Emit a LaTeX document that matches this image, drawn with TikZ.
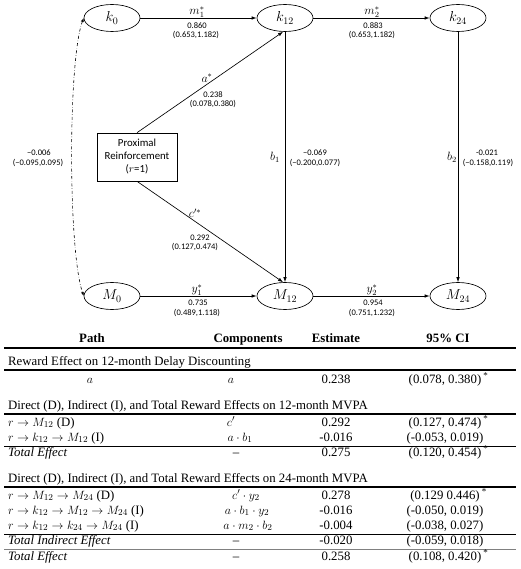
\documentclass[tikz,border=0pt]{standalone}
\usepackage{fontspec}
\setmainfont{Liberation Serif}
\newfontfamily\calib{Carlito}
\usetikzlibrary{shapes.geometric,arrows.meta}
\begin{document}
\begin{tikzpicture}[x=1pt,y=-1pt,
  ell/.style={ellipse,draw,line width=0.65pt,minimum width=56pt,minimum height=27pt,inner sep=0pt,font=\fontsize{14}{14}\selectfont},
  arr/.style={-{Latex[length=5pt,width=3.5pt]},line width=0.65pt},
  num/.style={font=\calib\fontsize{8.5}{9.5}\selectfont,inner sep=0pt},
  lab/.style={font=\fontsize{11.5}{11.5}\selectfont,inner sep=0pt},
  tx/.style={font=\fontsize{12.8}{14}\selectfont,inner sep=0pt,text height=8.6pt,text depth=2.6pt},
  tl/.style={tx,anchor=west},
  hd/.style={tx,font=\fontsize{12.8}{14}\selectfont\bfseries},
  thick rule/.style={line width=1.5pt},
  thin rule/.style={line width=0.8pt}]
\useasboundingbox (0,0) rectangle (520,569);
% ---- diagram nodes
\node[ell] (k0)  at (112,18)  {$k_0$};
\node[ell] (k12) at (285,18)  {$k_{12}$};
\node[ell] (k24) at (458,18)  {$k_{24}$};
\node[ell] (M0)  at (112,296) {$M_0$};
\node[ell] (M12) at (285,296) {$M_{12}$};
\node[ell] (M24) at (458,296) {$M_{24}$};
\node[draw,line width=0.65pt,minimum width=80pt,minimum height=48pt,inner sep=1pt,align=center,
      font=\calib\fontsize{10.8}{13}\selectfont] (box) at (137,157) {Proximal\\Reinforcement\\($r$=1)};
% ---- connectors
\draw[arr] (k0) -- (k12);
\draw[arr] (k12) -- (k24);
\draw[arr] (M0) -- (M12);
\draw[arr] (M12) -- (M24);
\draw[arr] (k12) -- (M12);
\draw[arr] (k24) -- (M24);
\draw[arr] (box.north) -- (k12.262);
\draw[arr] (box.south) -- (M12.98);
\draw[dashdotted,line width=0.6pt,{Latex[length=4pt,width=3pt]}-{Latex[length=4pt,width=3pt]}]
  (k0.west) .. controls (68,60) and (68,250) .. (M0.west);
% ---- labels
\node[lab] (lm1) at (197,12) {$m_1^*$};
\node[num] (nm1) at (197,26) {0.860};
\node[num] (cm1) at (196,35) {(0.653,1.182)};
\node[lab] (lm2) at (372,12) {$m_2^*$};
\node[num] (nm2) at (373,26) {0.883};
\node[num] (cm2) at (372,35) {(0.653,1.182)};
\node[lab] (ly1) at (197,290) {$y_1^*$};
\node[num] (ny1) at (198,303) {0.735};
\node[num] (cy1) at (197,313) {(0.489,1.118)};
\node[lab] (ly2) at (372,290) {$y_2^*$};
\node[num] (ny2) at (373,303) {0.954};
\node[num] (cy2) at (372,313) {(0.751,1.232)};
\node[lab] (la) at (207,78) {$a^*$};
\node[num] (na) at (213,95) {0.238};
\node[num] (ca) at (213,104) {(0.078,0.380)};
\node[lab] (lc) at (195,213) {$c'^*$};
\node[num] (nc) at (200,238) {0.292};
\node[num] (cc) at (195,247) {(0.127,0.474)};
\node[lab] (lb1) at (275,157) {$b_1$};
\node[num] (nb1) at (315,153) {−0.069};
\node[num] (cb1) at (315,163) {(−0.200,0.077)};
\node[lab] (lb2) at (452,157) {$b_2$};
\node[num] (nb2) at (487,153) {-0.021};
\node[num] (cb2) at (488,163) {(−0.158,0.119)};
\node[num] (nk) at (39,153) {−0.006};
\node[num] (ck) at (38,163) {(−0.095,0.095)};
% ---- table header
\node[hd] (hpath) at (92,339) {Path};
\node[hd] (hcomp) at (248,339) {Components};
\node[hd] (hest) at (336,339) {Estimate};
\node[hd] (hci) at (448,339) {95\% CI};
\draw[thick rule] (4,348) -- (516,348);
% section 1
\node[tl] (s1) at (8,362) {Reward Effect on 12-month Delay Discounting};
\draw[thick rule] (4,370) -- (516,370);
\node[tx] (r1p) at (90,380) {$a$};
\node[tx] (r1c) at (231,380) {$a$};
\node[tx] (r1e) at (336,380) {0.238};
\node[tx] (r1i) at (445,380) {(0.078, 0.380)\rlap{\,\textsuperscript{*}}};
% section 2
\node[tl] (s2) at (8,406) {Direct (D), Indirect (I), and Total Reward Effects on 12-month MVPA};
\draw[thick rule] (4,414) -- (516,414);
\node[tl] (r2p) at (8,423) {$r\rightarrow M_{12}$ (D)};
\node[tx] (r2c) at (231,423) {$c'$};
\node[tx] (r2e) at (336,423) {0.292};
\node[tx] (r2i) at (445,423) {(0.127, 0.474)\rlap{\,\textsuperscript{*}}};
\node[tl] (r3p) at (8,438) {$r\rightarrow k_{12}\rightarrow M_{12}$ (I)};
\node[tx] (r3c) at (240,438) {$a\cdot b_1$};
\node[tx] (r3e) at (336,438) {-0.016};
\node[tx] (r3i) at (445,438) {(-0.053, 0.019)};
\draw[thin rule] (4,446) -- (516,446);
\node[tl] (r4p) at (8,453) {\textit{Total Effect}};
\node[tx] (r4c) at (236,453) {–};
\node[tx] (r4e) at (336,453) {0.275};
\node[tx] (r4i) at (445,453) {(0.120, 0.454)\rlap{\,\textsuperscript{*}}};
% section 3
\node[tl] (s3) at (8,479) {Direct (D), Indirect (I), and Total Reward Effects on 24-month MVPA};
\draw[thick rule] (4,487) -- (516,487);
\node[tl] (r5p) at (8,496) {$r\rightarrow M_{12}\rightarrow M_{24}$ (D)};
\node[tx] (r5c) at (246,496) {$c'\cdot y_2$};
\node[tx] (r5e) at (336,496) {0.278};
\node[tx] (r5i) at (445,496) {(0.129 0.446)\rlap{\,\textsuperscript{*}}};
\node[tl] (r6p) at (8,511) {$r\rightarrow k_{12}\rightarrow M_{12}\rightarrow M_{24}$ (I)};
\node[tx] (r6c) at (247,511) {$a\cdot b_1\cdot y_2$};
\node[tx] (r6e) at (336,511) {-0.016};
\node[tx] (r6i) at (445,511) {(-0.050, 0.019)};
\node[tl] (r7p) at (8,526) {$r\rightarrow k_{12}\rightarrow k_{24}\rightarrow M_{24}$ (I)};
\node[tx] (r7c) at (248,526) {$a\cdot m_2\cdot b_2$};
\node[tx] (r7e) at (336,526) {-0.004};
\node[tx] (r7i) at (445,526) {(-0.038, 0.027)};
\draw[thin rule] (4,534) -- (516,534);
\node[tl] (r8p) at (8,541) {\textit{Total Indirect Effect}};
\node[tx] (r8c) at (236,541) {–};
\node[tx] (r8e) at (336,541) {-0.020};
\node[tx] (r8i) at (445,541) {(-0.059, 0.018)};
\draw[thin rule,gray] (4,549) -- (516,549);
\node[tl] (r9p) at (8,557) {\textit{Total Effect}};
\node[tx] (r9c) at (236,557) {–};
\node[tx] (r9e) at (336,557) {0.258};
\node[tx] (r9i) at (445,557) {(0.108, 0.420)\rlap{\,\textsuperscript{*}}};
\end{tikzpicture}
\end{document}
